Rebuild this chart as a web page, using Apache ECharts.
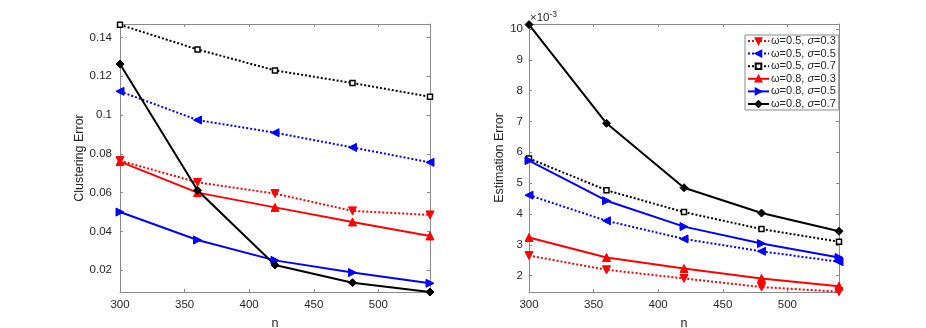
<html>
<head>
<meta charset="UTF-8"/>
<title>Clustering / Estimation Error</title>
<script src="https://cdn.jsdelivr.net/npm/echarts@6/dist/echarts.min.js"></script>
</head>
<body style="margin:0;background:#fff;">
<div id="main" style="width:926px;height:328px;"></div>
<script>
// sample sizes
var nValues = [300, 360, 420, 480, 540];
var xTicks = [300, 350, 400, 450, 500];
var omegas = ['0.5', '0.5', '0.5', '0.8', '0.8', '0.8'];
var sigmas = ['0.3', '0.5', '0.7', '0.3', '0.5', '0.7'];
var seriesNames = omegas.map(function (w, i) { return '\u03c9=' + w + ', \u03c3=' + sigmas[i]; });

// clustering error (left panel)
var clusterW5S3 = [0.0765, 0.0653, 0.0595, 0.0506, 0.0485];
var clusterW5S5 = [0.1122, 0.0974, 0.0909, 0.0833, 0.0756];
var clusterW5S7 = [0.1465, 0.1338, 0.1230, 0.1165, 0.1094];
var clusterW8S3 = [0.0760, 0.0600, 0.0524, 0.0449, 0.0377];
var clusterW8S5 = [0.0500, 0.0356, 0.0251, 0.0188, 0.0133];
var clusterW8S7 = [0.1263, 0.0612, 0.0227, 0.0136, 0.0088];
var clusterTicks = [0.02, 0.04, 0.06, 0.08, 0.1, 0.12, 0.14];

// estimation error (right panel), in units of 1e-3
var estimW5S3 = [2.65, 2.19, 1.91, 1.63, 1.48];
var estimW5S5 = [4.61, 3.78, 3.19, 2.79, 2.45];
var estimW5S7 = [5.80, 4.77, 4.06, 3.51, 3.10];
var estimW8S3 = [3.24, 2.59, 2.23, 1.91, 1.66];
var estimW8S5 = [5.73, 4.43, 3.59, 3.04, 2.59];
var estimW8S7 = [10.14, 6.94, 4.85, 4.03, 3.44];
var estimTicks = [2, 3, 4, 5, 6, 7, 8, 9, 10];

var styles = [
  {color: '#ff0000', dash: 'dotted', symbol: 'triangle', rot: 180, size: 8, hollow: false},
  {color: '#0000ff', dash: 'dotted', symbol: 'triangle', rot: 90, size: 8, hollow: false},
  {color: '#000000', dash: 'dotted', symbol: 'rect', rot: 0, size: 5, hollow: true},
  {color: '#ff0000', dash: 'solid', symbol: 'triangle', rot: 0, size: 8, hollow: false},
  {color: '#0000ff', dash: 'solid', symbol: 'triangle', rot: -90, size: 8, hollow: false},
  {color: '#000000', dash: 'solid', symbol: 'diamond', rot: 0, size: 8, hollow: false}
];

var clusterData = [clusterW5S3, clusterW5S5, clusterW5S7, clusterW8S3, clusterW8S5, clusterW8S7];
var estimData = [estimW5S3, estimW5S5, estimW5S7, estimW8S3, estimW8S5, estimW8S7];

var axisGray = '#8a8a8a';
var textColor = '#262626';
var font = 'Liberation Sans, Arial, sans-serif';

function xAx(grid, pos, showLabel) {
  return {
    type: 'value', gridIndex: grid, position: pos, min: 300, max: 540,
    name: showLabel ? 'n' : '', nameLocation: 'middle', nameGap: 25,
    nameTextStyle: {color: textColor, fontSize: 12.5, fontFamily: font},
    axisLine: {show: true, onZero: false, lineStyle: {color: axisGray, width: 1}},
    axisTick: {show: true, inside: true, length: 3, customValues: xTicks, lineStyle: {color: axisGray}},
    axisLabel: {show: showLabel, customValues: xTicks, color: textColor, fontSize: 11.5, fontFamily: font, margin: 7},
    splitLine: {show: false}
  };
}

function yAx(grid, pos, showLabel, min, max, ticks, name, gap, margin) {
  return {
    type: 'value', gridIndex: grid, position: pos, min: min, max: max,
    name: showLabel ? name : '', nameLocation: 'middle', nameGap: gap,
    nameTextStyle: {color: textColor, fontSize: 12.5, fontFamily: font},
    axisLine: {show: true, onZero: false, lineStyle: {color: axisGray, width: 1}},
    axisTick: {show: true, inside: true, length: 3, customValues: ticks, lineStyle: {color: axisGray}},
    axisLabel: {show: showLabel, customValues: ticks, color: textColor, fontSize: 11.5, fontFamily: font, margin: margin},
    splitLine: {show: false}
  };
}

function makeSeries(dataSets, xIdx, yIdx) {
  return dataSets.map(function (vals, i) {
    var s = styles[i];
    return {
      name: seriesNames[i], type: 'line', xAxisIndex: xIdx, yAxisIndex: yIdx,
      data: vals.map(function (v, j) { return [nValues[j], v]; }),
      symbol: s.symbol, symbolSize: s.size, symbolRotate: s.rot, showAllSymbol: true,
      lineStyle: {color: s.color, width: 2, type: s.dash === 'dotted' ? [2, 2] : 'solid'},
      itemStyle: {color: s.hollow ? '#ffffff' : s.color, borderColor: s.color, borderWidth: s.hollow ? 1.5 : 1},
      emphasis: {disabled: true},
      z: 3
    };
  });
}

var chart = echarts.init(document.getElementById('main'));
chart.setOption({
  animation: false,
  backgroundColor: '#fff',
  grid: [
    {left: 120, top: 24, width: 310, height: 268, show: false, outerBoundsMode: 'none', containLabel: false},
    {left: 529, top: 24, width: 310, height: 268, show: false, outerBoundsMode: 'none', containLabel: false}
  ],
  xAxis: [xAx(0, 'bottom', true), xAx(0, 'top', false), xAx(1, 'bottom', true), xAx(1, 'top', false)],
  yAxis: [
    yAx(0, 'left', true, 0.0088, 0.1469, clusterTicks, 'Clustering Error', 31, 8),
    yAx(0, 'right', false, 0.0088, 0.1469, clusterTicks, '', 0, 0),
    yAx(1, 'left', true, 1.47, 10.16, estimTicks, 'Estimation Error', 20, 6),
    yAx(1, 'right', false, 1.47, 10.16, estimTicks, '', 0, 0)
  ],
  legend: {
    data: seriesNames, orient: 'vertical', left: 745, top: 35,
    itemWidth: 21, itemHeight: 7, itemGap: 0.6,
    backgroundColor: '#fff', borderColor: axisGray, borderWidth: 1, padding: [0, 3, 0, 2],
    formatter: function (name) {
      var i = seriesNames.indexOf(name);
      return '{t|\u03c9=' + omegas[i] + ', }{s|\u03c3}{t|=' + sigmas[i] + '}';
    },
    textStyle: {
      color: textColor, fontSize: 11, fontFamily: font, lineHeight: 12, padding: [0, 0, 0, -3],
      rich: {
        t: {fontSize: 11, fontFamily: font, color: textColor, lineHeight: 12},
        s: {fontSize: 11, fontFamily: font, fontStyle: 'italic', color: textColor, lineHeight: 12}
      }
    }
  },
  graphic: [{
    type: 'text', left: 530, top: 10,
    style: {
      text: '{a|\u00d710}{b|-3}',
      rich: {
        a: {fontSize: 11.5, fill: textColor, fontFamily: font},
        b: {fontSize: 8.5, fill: textColor, fontFamily: font, verticalAlign: 'top', padding: [0, 0, 6, 0]}
      }
    }
  }],
  series: makeSeries(clusterData, 0, 0).concat(makeSeries(estimData, 2, 2))
});
</script>
</body>
</html>
